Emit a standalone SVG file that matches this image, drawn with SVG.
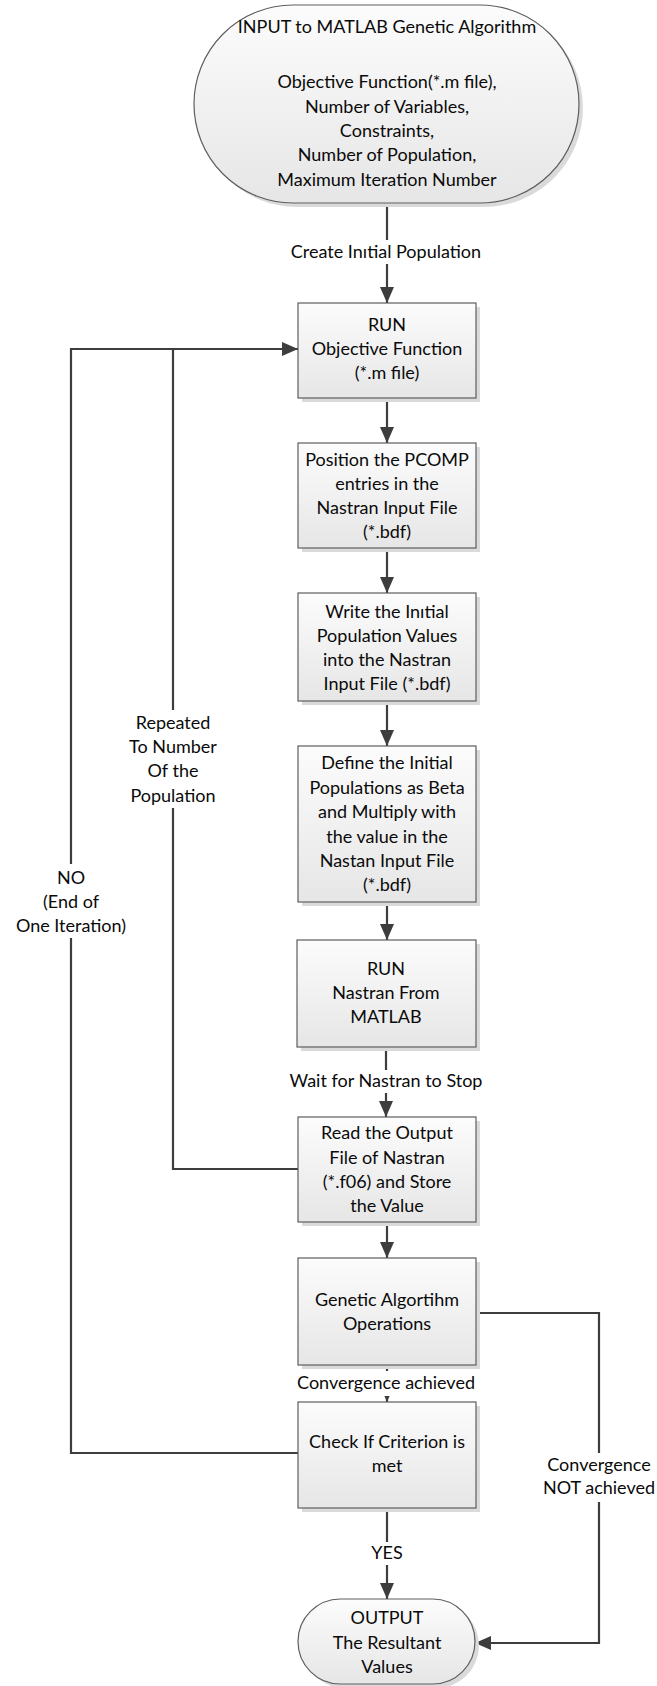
<svg xmlns="http://www.w3.org/2000/svg" width="657" height="1686" viewBox="0 0 657 1686">
  <defs>
    <linearGradient id="fill" x1="0" y1="0" x2="0" y2="1">
      <stop offset="0" stop-color="#fcfcfc"/>
      <stop offset="1" stop-color="#e6e6e6"/>
    </linearGradient>
    <marker id="arrow" markerUnits="userSpaceOnUse" markerWidth="16" markerHeight="14" refX="16" refY="7" orient="auto">
      <path d="M0,0 L16,7 L0,14 Z" fill="#3d3d3d"/>
    </marker>
  </defs>
  <style>
    .shape { fill: url(#fill); stroke: #5e5e5e; stroke-width: 1.2; }
    .shadow { fill: #dadada; }
    .t { font-family: Lato, "Liberation Sans", sans-serif; font-size: 18px; fill: #0a0a0a; text-anchor: middle; }
    .wire { fill: none; stroke: #3d3d3d; stroke-width: 2.2; }
    .lbg { fill: #ffffff; }
  </style>
  <rect width="657" height="1686" fill="#ffffff"/>

  <!-- connectors and their labels -->
  <g id="connectors">
    <path class="wire" d="M387 203 V303" marker-end="url(#arrow)"/>
    <path class="wire" d="M387 398 V443" marker-end="url(#arrow)"/>
    <path class="wire" d="M387 548 V593" marker-end="url(#arrow)"/>
    <path class="wire" d="M387 701 V746" marker-end="url(#arrow)"/>
    <path class="wire" d="M387 902 V940" marker-end="url(#arrow)"/>
    <path class="wire" d="M386 1047 V1117" marker-end="url(#arrow)"/>
    <path class="wire" d="M387 1222 V1258" marker-end="url(#arrow)"/>
    <path class="wire" d="M387 1365 V1402" marker-end="url(#arrow)"/>
    <path class="wire" d="M387 1508 V1599" marker-end="url(#arrow)"/>
    <!-- inner loop: repeat for each member of the population -->
    <path class="wire" d="M298 1169 H173 V349 H298" marker-end="url(#arrow)"/>
    <!-- outer loop: next iteration -->
    <path class="wire" d="M298 1453 H71 V349 H173"/>
    <!-- not converged: straight to output -->
    <path class="wire" d="M476 1313 H599 V1643 H475" marker-end="url(#arrow)"/>

    <rect class="lbg" x="282" y="240" width="210" height="24"/>
    <text class="t" x="386" y="258">Create Inıtial Population</text>

    <rect class="lbg" x="282" y="1070" width="210" height="23"/>
    <text class="t" x="386" y="1087">Wait for Nastran to Stop</text>

    <rect class="lbg" x="290" y="1371" width="194" height="25"/>
    <text class="t" x="386" y="1389">Convergence achieved</text>

    <rect class="lbg" x="367" y="1542" width="40" height="23"/>
    <text class="t" x="387" y="1559">YES</text>

    <rect class="lbg" x="122" y="710" width="102" height="98"/>
    <text class="t" x="173" y="729">Repeated</text>
    <text class="t" x="173" y="753">To Number</text>
    <text class="t" x="173" y="777">Of the</text>
    <text class="t" x="173" y="802">Population</text>

    <rect class="lbg" x="10" y="864" width="122" height="74"/>
    <text class="t" x="71" y="884">NO</text>
    <text class="t" x="71" y="908">(End of</text>
    <text class="t" x="71" y="932">One Iteration)</text>

    <rect class="lbg" x="538" y="1453" width="119" height="49"/>
    <text class="t" x="599" y="1471">Convergence</text>
    <text class="t" x="599" y="1494">NOT achieved</text>
  </g>

  <g id="input">
    <path class="shadow" d="M297 9 H484 A99 99 0 0 1 484 207 H297 A99 99 0 0 1 297 9 Z"/>
    <path class="shape" d="M293 5 H480 A99 99 0 0 1 480 203 H293 A99 99 0 0 1 293 5 Z"/>
    <text class="t" x="387" y="33">INPUT to MATLAB Genetic Algorithm</text>
    <text class="t" x="387" y="88">Objective Function(*.m file),</text>
    <text class="t" x="387" y="113">Number of Variables,</text>
    <text class="t" x="387" y="137">Constraints,</text>
    <text class="t" x="387" y="161">Number of Population,</text>
    <text class="t" x="387" y="186">Maximum Iteration Number</text>
  </g>

  <g id="run-objective">
    <rect class="shadow" x="302" y="307" width="178" height="95"/>
    <rect class="shape" x="298" y="303" width="178" height="95"/>
    <text class="t" x="387" y="331">RUN</text>
    <text class="t" x="387" y="355">Objective Function</text>
    <text class="t" x="387" y="379">(*.m file)</text>
  </g>

  <g id="position-pcomp">
    <rect class="shadow" x="302" y="447" width="178" height="105"/>
    <rect class="shape" x="298" y="443" width="178" height="105"/>
    <text class="t" x="387" y="466">Position the PCOMP</text>
    <text class="t" x="387" y="490">entries in the</text>
    <text class="t" x="387" y="514">Nastran Input File</text>
    <text class="t" x="387" y="538">(*.bdf)</text>
  </g>

  <g id="write-population">
    <rect class="shadow" x="302" y="597" width="178" height="108"/>
    <rect class="shape" x="298" y="593" width="178" height="108"/>
    <text class="t" x="387" y="618">Write the Inıtial</text>
    <text class="t" x="387" y="642">Population Values</text>
    <text class="t" x="387" y="666">into the Nastran</text>
    <text class="t" x="387" y="690">Input File (*.bdf)</text>
  </g>

  <g id="define-beta">
    <rect class="shadow" x="302" y="750" width="178" height="156"/>
    <rect class="shape" x="298" y="746" width="178" height="156"/>
    <text class="t" x="387" y="769">Define the Initial</text>
    <text class="t" x="387" y="794">Populations as Beta</text>
    <text class="t" x="387" y="818">and Multiply with</text>
    <text class="t" x="387" y="843">the value in the</text>
    <text class="t" x="387" y="867">Nastan Input File</text>
    <text class="t" x="387" y="891">(*.bdf)</text>
  </g>

  <g id="run-nastran">
    <rect class="shadow" x="301" y="944" width="179" height="107"/>
    <rect class="shape" x="297" y="940" width="179" height="107"/>
    <text class="t" x="386" y="975">RUN</text>
    <text class="t" x="386" y="999">Nastran From</text>
    <text class="t" x="386" y="1023">MATLAB</text>
  </g>

  <g id="read-output">
    <rect class="shadow" x="302" y="1121" width="178" height="105"/>
    <rect class="shape" x="298" y="1117" width="178" height="105"/>
    <text class="t" x="387" y="1139">Read the Output</text>
    <text class="t" x="387" y="1164">File of Nastran</text>
    <text class="t" x="387" y="1188">(*.f06) and Store</text>
    <text class="t" x="387" y="1212">the Value</text>
  </g>

  <g id="ga-operations">
    <rect class="shadow" x="302" y="1262" width="178" height="107"/>
    <rect class="shape" x="298" y="1258" width="178" height="107"/>
    <text class="t" x="387" y="1306">Genetic Algortihm</text>
    <text class="t" x="387" y="1330">Operations</text>
  </g>

  <g id="check-criterion">
    <rect class="shadow" x="302" y="1406" width="178" height="106"/>
    <rect class="shape" x="298" y="1402" width="178" height="106"/>
    <text class="t" x="387" y="1448">Check If Criterion is</text>
    <text class="t" x="387" y="1472">met</text>
  </g>

  <g id="output">
    <path class="shadow" d="M344.5 1603 H436.5 A42.5 42.5 0 0 1 436.5 1688 H344.5 A42.5 42.5 0 0 1 344.5 1603 Z"/>
    <path class="shape" d="M340.5 1599 H432.5 A42.5 42.5 0 0 1 432.5 1684 H340.5 A42.5 42.5 0 0 1 340.5 1599 Z"/>
    <text class="t" x="387" y="1624">OUTPUT</text>
    <text class="t" x="387" y="1649">The Resultant</text>
    <text class="t" x="387" y="1673">Values</text>
  </g>
</svg>
